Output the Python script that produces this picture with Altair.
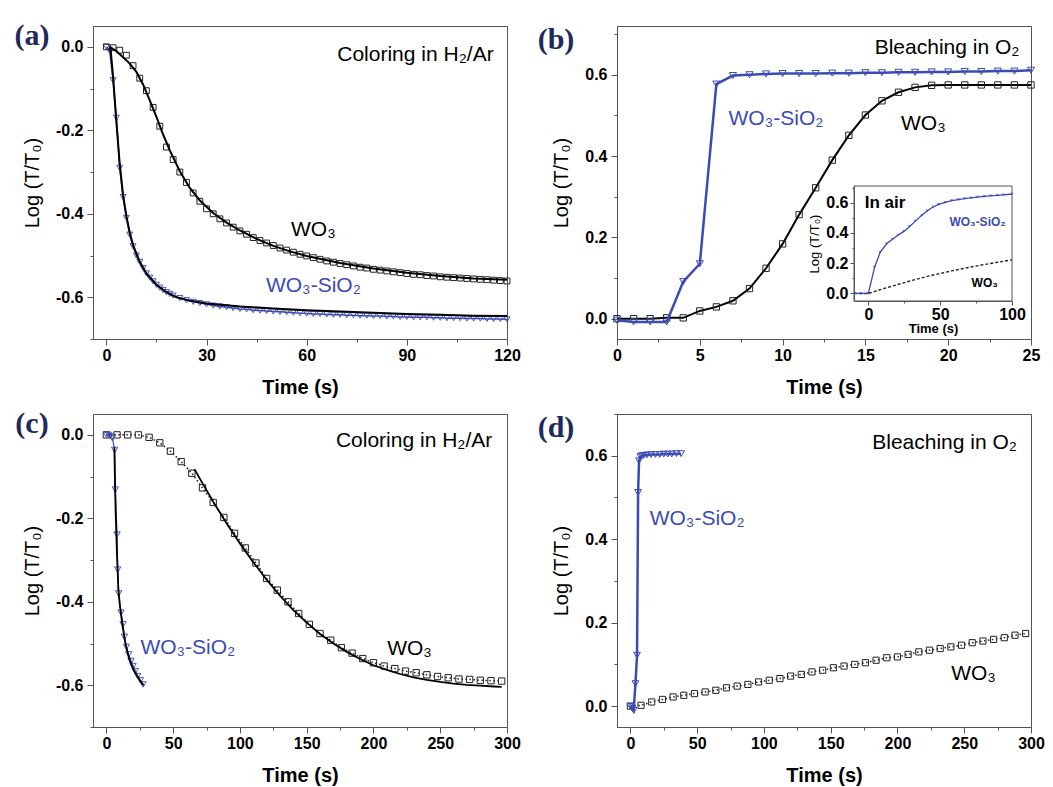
import altair as alt
import pandas as pd

FONT = "Liberation Sans"
SERIF = "Liberation Serif"
BLUE = "#3a4bb4"
NAVY = "#1d2a5c"
FRAME = "#555555"
W, H = 414, 313
YTITLE = "Log (T/T\u2080)"
WO3 = "WO\u2083"
WOSI = "WO\u2083-SiO\u2082"

# ---------------- panel (a): coloring, first cycle ----------------
A_WO3_T = [0, 2, 4, 6, 8, 10, 12, 14, 16, 18, 20, 22, 24, 26, 28, 30, 32, 34, 36, 38,
           40, 42, 44, 46, 48, 50, 52, 54, 56, 58, 60, 62, 64, 66, 68, 70, 72, 74, 76, 78,
           80, 82, 84, 86, 88, 90, 92, 94, 96, 98, 100, 102, 104, 106, 108, 110, 112, 114, 116, 118,
           120]
A_WO3_V = [0.000, -0.002, -0.008, -0.020, -0.045, -0.075, -0.105, -0.145, -0.190, -0.240,
           -0.270, -0.300, -0.325, -0.350, -0.370, -0.388, -0.400, -0.412, -0.422, -0.432,
           -0.441, -0.449, -0.457, -0.464, -0.470, -0.476, -0.482, -0.487, -0.492, -0.497,
           -0.501, -0.505, -0.509, -0.513, -0.516, -0.519, -0.522, -0.525, -0.528, -0.530,
           -0.533, -0.535, -0.537, -0.539, -0.541, -0.543, -0.545, -0.546, -0.548, -0.549,
           -0.551, -0.552, -0.553, -0.554, -0.555, -0.556, -0.557, -0.558, -0.559, -0.560,
           -0.561]
A_SIO2_T = [0, 1, 2, 3, 4, 5, 6, 7, 8, 9, 10, 11, 12, 13, 14, 15, 16, 17, 18, 19, 20,
            22, 24, 26, 28, 30, 32, 34, 36, 38, 40, 42, 44, 46, 48, 50, 52, 54, 56, 58,
            60, 62, 64, 66, 68, 70, 72, 74, 76, 78, 80, 82, 84, 86, 88, 90, 92, 94, 96, 98,
            100, 102, 104, 106, 108, 110, 112, 114, 116, 118, 120]
A_SIO2_V = [0.000, -0.010, -0.080, -0.170, -0.290, -0.360, -0.410, -0.450, -0.478, -0.500,
            -0.515, -0.530, -0.543, -0.553, -0.562, -0.570, -0.577, -0.583, -0.588, -0.592,
            -0.596,
            -0.602, -0.607, -0.611, -0.614, -0.617, -0.620, -0.622, -0.624, -0.626, -0.628,
            -0.629, -0.631, -0.632, -0.633, -0.634, -0.635, -0.636, -0.637, -0.638, -0.639,
            -0.640, -0.640, -0.641, -0.642, -0.642, -0.643, -0.643, -0.644, -0.644, -0.645,
            -0.645, -0.646, -0.646, -0.647, -0.647, -0.648, -0.648, -0.648, -0.649, -0.649,
            -0.650, -0.650, -0.650, -0.651, -0.651, -0.651, -0.652, -0.652, -0.652, -0.653]
A_FIT_WO3_T = [1, 3, 5, 7, 9, 11, 13, 15, 17, 19, 22, 25, 28, 32, 36, 40, 45, 50, 55, 60,
               70, 80, 90, 100, 110, 120]
A_FIT_WO3_V = [0.0, -0.01, -0.025, -0.04, -0.06, -0.09, -0.128, -0.168, -0.21, -0.248,
               -0.298, -0.338, -0.368, -0.398, -0.421, -0.44, -0.46, -0.477, -0.49, -0.501,
               -0.518, -0.531, -0.541, -0.549, -0.555, -0.558]
A_FIT_SIO2_T = [1.2, 2, 3, 4, 5, 6, 7, 8, 10, 12, 15, 18, 21, 25, 30, 40, 50, 60, 70, 80,
                90, 100, 110, 120]
A_FIT_SIO2_V = [0.0, -0.07, -0.18, -0.28, -0.355, -0.405, -0.445, -0.475, -0.515, -0.543,
                -0.57, -0.588, -0.6, -0.608, -0.615, -0.622, -0.627, -0.631, -0.634, -0.637,
                -0.64, -0.642, -0.644, -0.645]

# ---------------- panel (b): bleaching, first cycle ----------------
B_T = [0, 1, 2, 3, 4, 5, 6, 7, 8, 9, 10, 11, 12, 13, 14, 15, 16, 17, 18, 19, 20,
       21, 22, 23, 24, 25]
B_WO3_V = [0.0, 0.0, 0.0, 0.002, 0.002, 0.019, 0.029, 0.044, 0.074, 0.124,
           0.184, 0.256, 0.322, 0.39, 0.451, 0.501, 0.536, 0.557, 0.569, 0.574,
           0.575, 0.575, 0.575, 0.575, 0.575, 0.575]
B_SIO2_V = [-0.004, -0.008, -0.008, -0.008, 0.091, 0.135, 0.577, 0.598, 0.6, 0.602,
            0.603, 0.603, 0.603, 0.604, 0.604, 0.605, 0.605, 0.606, 0.606, 0.607,
            0.607, 0.608, 0.608, 0.609, 0.609, 0.611]
# inset: bleaching in air
I_SIO2_T = [-9.5, -5, 0, 4.3, 8.2, 12.7, 16.8, 20.6, 24.7, 28.6, 32.7, 37.2, 41, 45,
            48.9, 53.5, 58, 62.6, 67, 71.5, 76, 80.6, 85, 89.8, 94, 100]
I_SIO2_V = [0.0, 0.0, 0.0, 0.172, 0.272, 0.328, 0.358, 0.385, 0.41, 0.441, 0.478, 0.516,
            0.546, 0.571, 0.589, 0.602, 0.614, 0.62, 0.627, 0.632, 0.636, 0.641, 0.645,
            0.648, 0.652, 0.657]
I_WO3_T = [-10, 0, 10, 20, 30, 40, 50, 60, 70, 80, 90, 100]
I_WO3_V = [0.0, 0.0, 0.03, 0.058, 0.085, 0.11, 0.132, 0.153, 0.172, 0.19, 0.206, 0.222]

# ---------------- panel (c): coloring, later cycle ----------------
C_WO3_T = [0, 8, 16, 24, 32, 40, 48, 56, 64, 72, 80, 88, 96, 104, 112, 120, 128, 136, 144,
           152, 160, 168, 176, 184, 192, 200, 208, 216, 224, 232, 240, 248, 256, 264, 272,
           280, 288, 296]
C_WO3_V = [0.0, 0.0, 0.0, 0.0, -0.006, -0.019, -0.039, -0.064, -0.092, -0.127,
           -0.162, -0.198, -0.236, -0.271, -0.307, -0.344, -0.372, -0.4, -0.428, -0.454,
           -0.476, -0.492, -0.51, -0.523, -0.536, -0.546, -0.554, -0.56, -0.566, -0.57,
           -0.575, -0.579, -0.582, -0.585, -0.586, -0.588, -0.589, -0.59]
C_FIT_WO3_T = [66, 70, 80, 90, 100, 110, 120, 130, 140, 150, 160, 170, 180, 190, 200,
               210, 220, 230, 240, 250, 260, 270, 280, 290, 296]
C_FIT_WO3_V = [-0.082, -0.105, -0.16, -0.212, -0.26, -0.305, -0.347, -0.385, -0.42, -0.45,
               -0.477, -0.5, -0.52, -0.537, -0.552, -0.563, -0.573, -0.581, -0.587, -0.592,
               -0.596, -0.599, -0.601, -0.603, -0.604]
C_SIO2_T = [0, 1.5, 3, 4.5, 6.2, 6.7, 8, 8.5, 9.2, 11, 12.5, 13.5, 15, 16.7, 18.5, 20,
            21.7, 23.5, 25.5, 27.5]
C_SIO2_V = [0.0, 0.0, -0.003, -0.008, -0.036, -0.131, -0.239, -0.323, -0.38, -0.426,
            -0.454, -0.484, -0.508, -0.526, -0.542, -0.554, -0.566, -0.578, -0.588, -0.598]
C_FIT_SIO2_T = [6, 6.5, 7, 7.5, 8, 8.5, 9, 10, 11, 12, 13, 14, 15, 17, 19, 21, 23, 25, 27, 28]
C_FIT_SIO2_V = [-0.03, -0.12, -0.19, -0.24, -0.29, -0.33, -0.37, -0.405, -0.43, -0.455,
                -0.475, -0.495, -0.51, -0.535, -0.553, -0.567, -0.578, -0.588, -0.597, -0.6]

# ---------------- panel (d): bleaching, later cycle ----------------
D_WO3_T = [0, 8, 16, 24, 32, 40, 48, 56, 64, 72, 80, 88, 96, 104, 112, 120, 128, 136, 144,
           152, 160, 168, 176, 184, 192, 200, 208, 216, 224, 232, 240, 248, 256, 264, 272,
           280, 288, 296]
D_WO3_V = [0.0, 0.002, 0.01, 0.016, 0.022, 0.026, 0.03, 0.034, 0.038, 0.044,
           0.048, 0.052, 0.058, 0.062, 0.066, 0.072, 0.076, 0.082, 0.086, 0.092,
           0.096, 0.1, 0.104, 0.11, 0.116, 0.118, 0.124, 0.13, 0.134, 0.138,
           0.142, 0.146, 0.152, 0.156, 0.16, 0.164, 0.17, 0.174]
D_SIO2_T = [0, 1.2, 2.5, 3.8, 5, 5.8, 6.5, 7.5, 8.5, 10, 12.5, 15.5, 18.8, 22, 25, 28, 31,
            34.5, 38]
D_SIO2_V = [0.0, -0.004, -0.01, 0.054, 0.122, 0.512, 0.588, 0.598, 0.6, 0.601, 0.602,
            0.603, 0.603, 0.603, 0.604, 0.604, 0.604, 0.605, 0.605]

# axis ticks (major + minor)
X_TICKS_A = [0, 15, 30, 45, 60, 75, 90, 105, 120]
X_TICKS_B = [0, 2.5, 5, 7.5, 10, 12.5, 15, 17.5, 20, 22.5, 25]
X_TICKS_CD = [0, 25, 50, 75, 100, 125, 150, 175, 200, 225, 250, 275, 300]
Y_TICKS_AC = [-0.7, -0.6, -0.5, -0.4, -0.3, -0.2, -0.1, 0.0]
Y_TICKS_BD = [0.0, 0.1, 0.2, 0.3, 0.4, 0.5, 0.6, 0.7]
X_TICKS_I = [0, 25, 50, 75, 100]
Y_TICKS_I = [0.0, 0.1, 0.2, 0.3, 0.4, 0.5, 0.6, 0.7]

X_DOM_A, Y_DOM_A = [-4, 120], [-0.7, 0.05]
X_DOM_B, Y_DOM_B = [0, 25], [-0.05, 0.72]
X_DOM_C, Y_DOM_C = [-10, 300], [-0.7, 0.05]
X_DOM_D, Y_DOM_D = [-10, 300], [-0.05, 0.70]
X_DOM_I, Y_DOM_I = [-10, 100], [-0.05, 0.71]


def df(t, v):
    return pd.DataFrame({"t": t, "v": v})


def minor_test(step):
    return f"round(datum.value / {step}) % 2 != 0"


def xenc(dom, vals, step, rng=None, **kw):
    cond = minor_test(step)
    sc = dict(domain=dom, nice=False, zero=False)
    if rng is not None:
        sc["range"] = rng
    ax = dict(values=vals, title="Time (s)", format=".0f",
              labelExpr=f"{cond} ? '' : datum.label",
              tickSize={"condition": {"test": cond, "value": 3}, "value": 6},
              labelFlush=False, labelOverlap=False, labelPadding=2,
              titlePadding=14, grid=False)
    ax.update(kw)
    return alt.X("t:Q", scale=alt.Scale(**sc), axis=alt.Axis(**ax))


def yenc(dom, vals, rng=None, **kw):
    cond = minor_test(0.1)
    sc = dict(domain=dom, nice=False, zero=False)
    if rng is not None:
        sc["range"] = rng
    ax = dict(values=vals, title=YTITLE, format=".1f",
              labelExpr=f"{cond} ? '' : replace(datum.label, '\u2212', '-')",
              tickSize={"condition": {"test": cond, "value": 3}, "value": 6},
              labelOverlap=False, labelPadding=4, titlePadding=13, grid=False)
    ax.update(kw)
    return alt.Y("v:Q", scale=alt.Scale(**sc), axis=alt.Axis(**ax))


def pts(t, v, X, Y, shape, color, size, sw=1.0):
    return alt.Chart(df(t, v)).mark_point(
        shape=shape, filled=False, size=size, strokeWidth=sw, color=color, opacity=1
    ).encode(x=X, y=Y)


def line(t, v, X, Y, color, width, dash=None):
    kw = dict(color=color, strokeWidth=width)
    if dash is not None:
        kw["strokeDash"] = dash
    return alt.Chart(df(t, v)).mark_line(**kw).encode(x=X, y=Y)


def ann(label, t, v, X, Y, color="black", size=21, align="center", weight="normal"):
    d = pd.DataFrame({"t": [t], "v": [v], "label": [label]})
    return alt.Chart(d).mark_text(
        align=align, baseline="middle", font=FONT, fontSize=size,
        fontWeight=weight, color=color
    ).encode(x=X, y=Y, text="label:N")


def panel_label(letter, dy):
    d = pd.DataFrame({"label": [letter]})
    return alt.Chart(d).mark_text(
        align="center", baseline="middle", font=SERIF, fontSize=30,
        fontWeight="bold", color=NAVY
    ).encode(x=alt.value(-61), y=alt.value(dy), text="label:N")


# ---- (a)
Xa = xenc(X_DOM_A, X_TICKS_A, 15)
Ya = yenc(Y_DOM_A, Y_TICKS_AC)
panel_a = alt.layer(
    line(A_SIO2_T, A_SIO2_V, Xa, Ya, BLUE, 1.5),
    pts(A_SIO2_T, A_SIO2_V, Xa, Ya, "triangle-down", BLUE, 36, 0.9),
    pts(A_WO3_T, A_WO3_V, Xa, Ya, "square", "#222", 34, 1.0),
    line(A_FIT_WO3_T, A_FIT_WO3_V, Xa, Ya, "black", 2),
    line(A_FIT_SIO2_T, A_FIT_SIO2_V, Xa, Ya, "black", 2),
    ann("Coloring in H\u2082/Ar", 116, -0.02, Xa, Ya, align="right"),
    ann(WO3, 62, -0.44, Xa, Ya),
    ann(WOSI, 62, -0.574, Xa, Ya, color=BLUE),
    panel_label("(a)", 10),
).properties(width=W, height=H)

# ---- (b)
Xb = xenc(X_DOM_B, X_TICKS_B, 2.5)
Yb = yenc(Y_DOM_B, Y_TICKS_BD)
main_b = alt.layer(
    line(B_T, B_WO3_V, Xb, Yb, "black", 2),
    pts(B_T, B_WO3_V, Xb, Yb, "square", "#222", 40, 1.0),
    line(B_T, B_SIO2_V, Xb, Yb, BLUE, 2.5),
    pts(B_T, B_SIO2_V, Xb, Yb, "triangle-down", BLUE, 50, 1.0),
    ann("Bleaching in O\u2082", 24.3, 0.667, Xb, Yb, align="right"),
    ann(WOSI, 9.6, 0.49, Xb, Yb, color=BLUE),
    ann(WO3, 18.5, 0.48, Xb, Yb),
    panel_label("(b)", 14),
)
Xi = xenc(X_DOM_I, X_TICKS_I, 25, rng=[237, 395], orient="bottom", offset=-38,
          titleFontSize=13, labelFontSize=16, labelPadding=1, titlePadding=0,
          tickSize={"condition": {"test": minor_test(25), "value": 2}, "value": 4},
          zindex=1)
Yi = yenc(Y_DOM_I, Y_TICKS_I, rng=[275, 160], orient="left", offset=-237,
          titleFontSize=13, labelFontSize=16, labelPadding=2, titlePadding=4,
          tickSize={"condition": {"test": minor_test(0.1), "value": 2}, "value": 4},
          zindex=1)
inset_frame = alt.Chart(pd.DataFrame({
    "t": [X_DOM_I[0]], "t2": [X_DOM_I[1]], "v": [Y_DOM_I[0]], "v2": [Y_DOM_I[1]]
})).mark_rect(fill="white", stroke=FRAME, strokeWidth=1).encode(
    x=Xi, x2="t2:Q", y=Yi, y2="v2:Q")
inset_b = alt.layer(
    inset_frame,
    line(I_WO3_T, I_WO3_V, Xi, Yi, "#222", 1.4, [3, 2]),
    line(I_SIO2_T, I_SIO2_V, Xi, Yi, BLUE, 1.3),
    alt.Chart(df(I_SIO2_T, I_SIO2_V)).mark_point(
        shape="triangle-down", filled=True, size=10, color=BLUE
    ).encode(x=Xi, y=Yi),
    ann("In air", -2.5, 0.6, Xi, Yi, align="left", size=17, weight="bold"),
    ann(WOSI, 76, 0.47, Xi, Yi, color=BLUE, size=12, weight="bold"),
    ann(WO3, 81, 0.066, Xi, Yi, size=12, weight="bold"),
)
panel_b = alt.layer(main_b, inset_b).resolve_scale(
    x="independent", y="independent").properties(width=W, height=H)

# ---- (c)
Xc = xenc(X_DOM_C, X_TICKS_CD, 25)
Yc = yenc(Y_DOM_C, Y_TICKS_AC)
panel_c = alt.layer(
    line(C_WO3_T, C_WO3_V, Xc, Yc, "#222", 1.5, [1.5, 2.5]),
    pts(C_WO3_T, C_WO3_V, Xc, Yc, "square", "#222", 40, 1.0),
    line(C_FIT_WO3_T, C_FIT_WO3_V, Xc, Yc, "black", 1.8),
    line(C_SIO2_T, C_SIO2_V, Xc, Yc, BLUE, 1.2),
    pts(C_SIO2_T, C_SIO2_V, Xc, Yc, "triangle-down", BLUE, 40, 0.9),
    line(C_FIT_SIO2_T, C_FIT_SIO2_V, Xc, Yc, "black", 1.8),
    ann("Coloring in H\u2082/Ar", 289, -0.014, Xc, Yc, align="right"),
    ann(WOSI, 61, -0.511, Xc, Yc, color=BLUE),
    ann(WO3, 227, -0.513, Xc, Yc),
    panel_label("(c)", 10),
).properties(width=W, height=H)

# ---- (d)
Xd = xenc(X_DOM_D, X_TICKS_CD, 25)
Yd = yenc(Y_DOM_D, Y_TICKS_BD)
panel_d = alt.layer(
    line(D_WO3_T, D_WO3_V, Xd, Yd, "#222", 1.5, [1.5, 2.5]),
    pts(D_WO3_T, D_WO3_V, Xd, Yd, "square", "#222", 38, 1.0),
    line(D_SIO2_T, D_SIO2_V, Xd, Yd, BLUE, 2.5),
    pts(D_SIO2_T, D_SIO2_V, Xd, Yd, "triangle-down", BLUE, 45, 1.0),
    ann("Bleaching in O\u2082", 289.5, 0.631, Xd, Yd, align="right"),
    ann(WOSI, 50, 0.449, Xd, Yd, color=BLUE),
    ann(WO3, 257, 0.077, Xd, Yd),
    panel_label("(d)", 14),
).properties(width=W, height=H)

chart = alt.vconcat(
    alt.hconcat(panel_a, panel_b, spacing=16),
    alt.hconcat(panel_c, panel_d, spacing=16),
    spacing=7,
).properties(
    padding={"left": 6, "top": 12, "right": 0, "bottom": 0}
).configure_view(
    stroke=FRAME, strokeWidth=1
).configure_axis(
    labelFont=FONT, labelFontSize=16, labelFontWeight="bold", labelColor="black",
    titleFont=FONT, titleFontSize=20, titleColor="black",
    domainColor=FRAME, tickColor=FRAME, domainWidth=1, tickWidth=1,
).configure_axisX(
    titleFontWeight="bold"
).configure_axisY(
    titleFontWeight="normal"
)

chart.save("out.html", embed_options={"renderer": "svg", "actions": False})
